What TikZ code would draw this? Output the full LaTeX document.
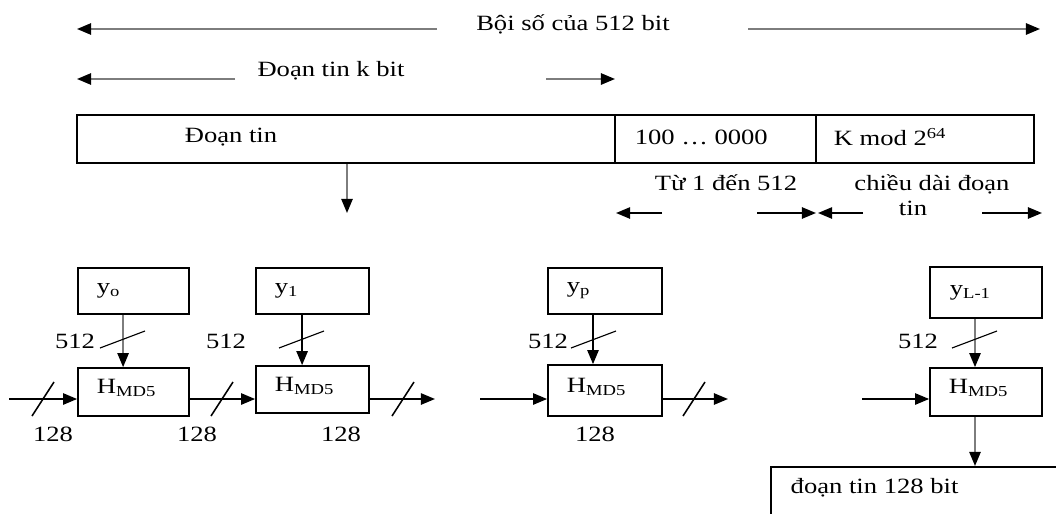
\documentclass[tikz,border=0pt]{standalone}
\usepackage{fontspec}
\setmainfont[FakeStretch=1.22]{Liberation Serif}
\usetikzlibrary{arrows.meta}
\definecolor{linegray}{RGB}{125,125,125}

\begin{document}
\begin{tikzpicture}[x=0.025cm, y=-0.025cm, line width=1pt, >={Triangle[length=10pt,width=8pt,color=black]}]

\tikzset{
  blk/.style={draw, line width=1.2pt, inner sep=0, minimum width=2.8cm, minimum height=1.15cm},
  hblk/.style={blk, minimum height=1.2cm},
  txt/.style={inner sep=0, font=\fontsize{15.5}{17}\selectfont},
  dim/.style={->, draw=linegray, line width=1.4pt},
  feed/.style={->, line width=1.3pt},
  grayfeed/.style={feed, draw=linegray},
}

\useasboundingbox (0,0) rectangle (1056,513);

% Whole length
\coordinate (allL) at (77,29);
\coordinate (allLs) at (437,29);
\coordinate (allR) at (1040,29);
\coordinate (allRs) at (748,29);
\node[txt] (all) at (573,24) {Bội số của 512 bit};
\draw[dim] (allLs) -- (allL);
\draw[dim] (allRs) -- (allR);

% Message length
\coordinate (kL) at (77,79);
\coordinate (kLs) at (235,79);
\coordinate (kR) at (615,79);
\coordinate (kRs) at (546,79);
\node[txt] (kbit) at (331,71) {Đoạn tin k bit};
\draw[dim] (kLs) -- (kL);
\draw[dim] (kRs) -- (kR);

% Padded message
\node[blk, minimum width=13.45cm, minimum height=1.2cm] (msg) at (346,139) {};
\node[blk, minimum width=5.025cm, minimum height=1.2cm] (pad) at (715.5,139) {};
\node[blk, minimum width=5.45cm, minimum height=1.2cm] (len) at (925,139) {};
\node[txt, anchor=west] (msgt) at ([xshift=2.7cm, yshift=0.05cm]msg.west) {Đoạn tin};
\node[txt, anchor=west] (padt) at ([xshift=0.5cm, yshift=0.05cm]pad.west) {100 … 0000};
\node[txt, anchor=west] (lent) at ([xshift=0.45cm, yshift=0.05cm]len.west) {K mod 2\textsuperscript{64}};

% Split into blocks
\coordinate (split) at (347,213);
\draw[grayfeed] (split |- msg.south) -- (split);

% Padding and length fields
\node[txt] (padl) at (726,183) {Từ 1 đến 512};
\node[txt, align=center, font=\fontsize{15.5}{17.5}\selectfont] (lenl) at (932,195) {chiều dài đoạn\\tin\hspace*{27pt}};
\coordinate (pa) at (616,213);
\coordinate (pas) at (662,213);
\coordinate (pb) at (816,213);
\coordinate (pbs) at (757,213);
\coordinate (la) at (818,213);
\coordinate (las) at (863,213);
\coordinate (lb) at (1042,213);
\coordinate (lbs) at (982,213);
\draw[feed] (pas) -- (pa);
\draw[feed] (pbs) -- (pb);
\draw[feed] (las) -- (la);
\draw[feed] (lbs) -- (lb);

% Message blocks
\node[blk, minimum width=2.775cm] (y0) at (133.5,291) {};
\node[blk, minimum width=2.825cm] (y1) at (312.5,291) {};
\node[blk, minimum width=2.85cm] (yp) at (605,291) {};
\node[blk, minimum width=2.8cm, minimum height=1.275cm] (yl) at (986,292.5) {};
\node[txt, anchor=west] (y0t) at ([xshift=0.475cm]y0.west) {y\textsubscript{o}};
\node[txt, anchor=west] (y1t) at ([xshift=0.475cm]y1.west) {y\textsubscript{1}};
\node[txt, anchor=west] (ypt) at ([xshift=0.475cm]yp.west) {y\textsubscript{p}};
\node[txt, anchor=west] (ylt) at ([xshift=0.5cm]yl.west) {y\textsubscript{L-1}};

% Compression stages
\node[hblk, minimum width=2.775cm] (h0) at (133.5,392) {};
\node[hblk, minimum width=2.825cm, minimum height=1.175cm] (h1) at (312.5,389.5) {};
\node[hblk, minimum width=2.85cm, minimum height=1.275cm] (hp) at (605,390.5) {};
\node[hblk, minimum width=2.8cm] (hl) at (986,392) {};
\foreach \h in {h0,h1,hp,hl}
  \node[txt, anchor=west] (\h t) at ([xshift=0.475cm, yshift=0.1cm]\h.west) {H\textsubscript{MD5}};

% Blocks into stages
\draw[grayfeed] ([xshift=-0.26cm]y0.south) -- ([xshift=-0.26cm]h0.north);
\draw[feed] ([xshift=-0.26cm]y1.south) -- ([xshift=-0.26cm]h1.north);
\draw[feed] ([xshift=-0.3cm]yp.south) -- ([xshift=-0.3cm]hp.north);
\draw[grayfeed] ([xshift=-0.275cm]yl.south) -- ([xshift=-0.275cm]hl.north);

% Chaining values
\coordinate (in0) at (9,399);
\coordinate (out1) at (435,399);
\coordinate (inp) at (480,399);
\coordinate (outp) at (728,399);
\coordinate (inl) at (862,399);
\draw[feed] (in0) -- (in0 -| h0.west);
\draw[feed] (in0 -| h0.east) -- (in0 -| h1.west);
\draw[feed] (in0 -| h1.east) -- (out1);
\draw[feed] (inp) -- (inp -| hp.west);
\draw[feed] (inp -| hp.east) -- (outp);
\draw[feed] (inl) -- (inl -| hl.west);

% Bus widths
\foreach \sx in {43,222,403,694}
  \draw[line width=1.1pt] (\sx,399) ++(-11,17) -- ++(22,-34);
\foreach \sx in {123,302,594,975}
  \draw[line width=0.8pt] (\sx,340) ++(-23,8) -- ++(45,-17);
\foreach \sx/\i in {75/0,226/1,548/2,918/3}
  \node[txt] (w\i) at (\sx,341) {512};
\foreach \sx/\i in {53/0,197/1,341/2,595/3}
  \node[txt] (c\i) at (\sx,434) {128};

% Digest
\node[draw, line width=1.2pt, inner sep=0, minimum width=7.5cm, minimum height=1.6cm, anchor=north west] (out) at (770,466) {};
\node[txt, anchor=west] (outt) at (790,488) {đoạn tin 128 bit};
\coordinate (hlx) at ([xshift=-0.275cm]hl.south);
\draw[grayfeed] (hlx) -- (hlx |- out.north);

\end{tikzpicture}
\end{document}
